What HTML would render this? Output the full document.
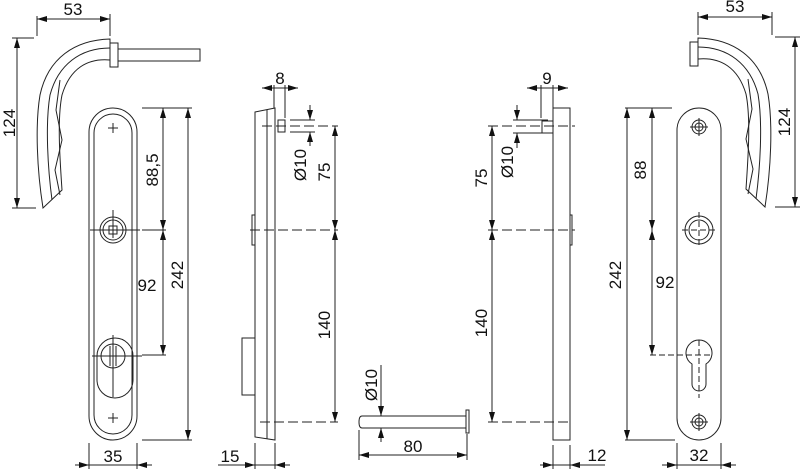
<!DOCTYPE html>
<html><head><meta charset="utf-8"><style>
html,body{margin:0;padding:0;background:#fff;}
svg{display:block;}
text{font-family:"Liberation Sans",sans-serif;font-size:17px;fill:#111;}
</style></head><body>
<svg width="800" height="469" viewBox="0 0 800 469" xmlns="http://www.w3.org/2000/svg">
<defs>
<marker id="a" viewBox="0 0 10 6" refX="10" refY="3" markerWidth="10" markerHeight="6" markerUnits="userSpaceOnUse" orient="auto-start-reverse"><path d="M0,0 L10,3 L0,6 Z" fill="#111"/></marker>
</defs>
<g stroke="#222" stroke-width="1" fill="none">
<!-- LEFT HANDLE -->
<path d="M110,39 C75,40 48,58 40,95 C35,125 37,170 43,208 L62,190 C60,160 57,120 62,95 C70,68 88,58 110,60 Z" fill="#fff"/>
<path d="M110,48 C80,48 58,65 50,95 C45,125 48,170 52,200"/>
<path d="M60,80 L56,110 L62,140 L55,170 L60,195"/>
<rect x="110" y="43" width="8" height="24"/>
<rect x="118" y="49" width="82" height="12"/>
<line x1="37" y1="19" x2="110" y2="19" marker-start="url(#a)" marker-end="url(#a)"/>
<line x1="37" y1="16" x2="37" y2="36"/><line x1="110" y1="14" x2="110" y2="36"/>
<line x1="17" y1="38" x2="17" y2="208" marker-start="url(#a)" marker-end="url(#a)"/>
<line x1="12" y1="38" x2="34" y2="38"/><line x1="12" y1="208" x2="36" y2="208"/>

<!-- LEFT PLATE -->
<rect x="89" y="108" width="48" height="332" rx="24" fill="#fff"/>
<rect x="94" y="114" width="38" height="320" rx="19"/>
<path d="M108,128h10M113,123v10M108,418h10M113,413v10"/>
<circle cx="113" cy="230" r="13"/><circle cx="113" cy="230" r="10"/>
<rect x="109" y="226" width="8" height="8"/>
<path d="M90,230h50M113,210v28"/>
<rect x="97" y="338" width="36" height="60" rx="18"/>
<circle cx="113" cy="356" r="12"/>
<path d="M92,356h50M113,335v62M110,346v20M116,346v20"/>
<line x1="142" y1="108" x2="192" y2="108"/>
<line x1="142" y1="230" x2="166" y2="230"/>
<line x1="142" y1="355" x2="166" y2="355"/>
<line x1="142" y1="440" x2="192" y2="440"/>
<line x1="163" y1="108" x2="163" y2="230" marker-start="url(#a)" marker-end="url(#a)"/>
<line x1="163" y1="230" x2="163" y2="355" marker-start="url(#a)" marker-end="url(#a)"/>
<line x1="188" y1="108" x2="188" y2="440" marker-start="url(#a)" marker-end="url(#a)"/>
<line x1="89" y1="443" x2="89" y2="469"/><line x1="137" y1="443" x2="137" y2="469"/>
<line x1="75" y1="465" x2="89" y2="465" marker-end="url(#a)"/>
<line x1="89" y1="465" x2="137" y2="465"/>
<line x1="152" y1="465" x2="137" y2="465" marker-end="url(#a)"/>

<!-- LEFT SIDE VIEW -->
<path d="M255,112 L275,108 L275,440 L255,437 Z" fill="#fff"/>
<line x1="267" y1="110" x2="267" y2="439"/>
<rect x="252" y="215" width="3" height="30"/>
<rect x="242" y="338" width="13" height="57"/>
<rect x="278" y="120" width="7" height="12"/>
<line x1="262" y1="126" x2="338" y2="126" stroke-dasharray="10,4"/>
<line x1="250" y1="230" x2="338" y2="230" stroke-dasharray="10,4"/>
<line x1="260" y1="422" x2="338" y2="422" stroke-dasharray="10,4"/>
<line x1="274" y1="85" x2="274" y2="108"/><line x1="285" y1="85" x2="285" y2="118"/>
<line x1="262" y1="88" x2="274" y2="88" marker-start="url(#a)"/>
<line x1="274" y1="88" x2="285" y2="88"/>
<line x1="285" y1="88" x2="298" y2="88" marker-end="url(#a)"/>
<line x1="290" y1="120" x2="315" y2="120"/><line x1="290" y1="132" x2="315" y2="132"/>
<line x1="310" y1="105" x2="310" y2="120" marker-end="url(#a)"/>
<line x1="310" y1="146" x2="310" y2="132" marker-end="url(#a)"/>
<line x1="335" y1="126" x2="335" y2="230" marker-start="url(#a)" marker-end="url(#a)"/>
<line x1="335" y1="230" x2="335" y2="422" marker-start="url(#a)" marker-end="url(#a)"/>
<line x1="255" y1="443" x2="255" y2="469"/><line x1="275" y1="443" x2="275" y2="469"/>
<line x1="218" y1="465" x2="255" y2="465" marker-end="url(#a)"/>
<line x1="255" y1="465" x2="275" y2="465"/>
<line x1="290" y1="465" x2="275" y2="465" marker-end="url(#a)"/>

<!-- PIN -->
<path d="M362,416 L466,416 L466,428 L362,428 Q359,428 359,422 Q359,416 362,416 Z"/>
<rect x="466" y="410" width="3" height="23"/>
<line x1="381" y1="365" x2="381" y2="416" marker-end="url(#a)"/>
<line x1="381" y1="442" x2="381" y2="428" marker-end="url(#a)"/>
<line x1="359" y1="430" x2="359" y2="460"/><line x1="467" y1="434" x2="467" y2="460"/>
<line x1="359" y1="455" x2="467" y2="455" marker-start="url(#a)" marker-end="url(#a)"/>

<!-- RIGHT SIDE VIEW -->
<rect x="553" y="108" width="17" height="332" fill="#fff"/>
<rect x="570" y="215" width="2" height="30"/>
<rect x="542" y="121" width="11" height="12"/>
<line x1="488" y1="126" x2="575" y2="126" stroke-dasharray="10,4"/>
<line x1="488" y1="230" x2="575" y2="230" stroke-dasharray="10,4"/>
<line x1="488" y1="422" x2="572" y2="422" stroke-dasharray="10,4"/>
<line x1="541" y1="85" x2="541" y2="118"/><line x1="553" y1="85" x2="553" y2="108"/>
<line x1="527" y1="88" x2="541" y2="88" marker-start="url(#a)"/>
<line x1="541" y1="88" x2="553" y2="88"/>
<line x1="553" y1="88" x2="568" y2="88" marker-end="url(#a)"/>
<line x1="513" y1="120" x2="548" y2="120"/><line x1="513" y1="133" x2="548" y2="133"/>
<line x1="517" y1="105" x2="517" y2="120" marker-end="url(#a)"/>
<line x1="517" y1="148" x2="517" y2="133" marker-end="url(#a)"/>
<line x1="492" y1="126" x2="492" y2="230" marker-start="url(#a)" marker-end="url(#a)"/>
<line x1="492" y1="230" x2="492" y2="422" marker-start="url(#a)" marker-end="url(#a)"/>
<line x1="553" y1="445" x2="553" y2="469"/><line x1="570" y1="445" x2="570" y2="469"/>
<line x1="540" y1="465" x2="553" y2="465" marker-end="url(#a)"/>
<line x1="553" y1="465" x2="570" y2="465"/>
<line x1="585" y1="465" x2="570" y2="465" marker-end="url(#a)"/>
<line x1="570" y1="465" x2="605" y2="465"/>

<!-- RIGHT PLATE -->
<rect x="677" y="108" width="44" height="332" rx="22" fill="#fff"/>
<circle cx="699" cy="127" r="7"/><circle cx="699" cy="127" r="4"/><path d="M690,127h18M699,118v18"/>
<circle cx="699" cy="422" r="7"/><circle cx="699" cy="422" r="4"/><path d="M690,422h18M699,413v18"/>
<circle cx="699" cy="230" r="14"/><circle cx="699" cy="230" r="10"/><path d="M682,230h35M699,212v36" stroke-dasharray="6,3"/>
<path d="M692,364 A13,13 0 1 1 706,364 L706,384 A7,7 0 0 1 692,384 Z"/>
<path d="M650,355h62M699,340v58" stroke-dasharray="6,3"/>
<line x1="625" y1="108" x2="672" y2="108"/>
<line x1="625" y1="440" x2="675" y2="440"/>
<line x1="652" y1="108" x2="652" y2="230" marker-start="url(#a)" marker-end="url(#a)"/>
<line x1="652" y1="230" x2="652" y2="355" marker-start="url(#a)" marker-end="url(#a)"/>
<line x1="627" y1="108" x2="627" y2="440" marker-start="url(#a)" marker-end="url(#a)"/>
<line x1="677" y1="443" x2="677" y2="469"/><line x1="721" y1="443" x2="721" y2="469"/>
<line x1="662" y1="465" x2="677" y2="465" marker-end="url(#a)"/>
<line x1="677" y1="465" x2="721" y2="465"/>
<line x1="736" y1="465" x2="721" y2="465" marker-end="url(#a)"/>

<!-- RIGHT HANDLE (mirror) -->
<g transform="translate(808,-1) scale(-1,1)">
<path d="M110,39 C75,40 48,58 40,95 C35,125 37,170 43,208 L62,190 C60,160 57,120 62,95 C70,68 88,58 110,60 Z" fill="#fff"/>
<path d="M110,48 C80,48 58,65 50,95 C45,125 48,170 52,200"/>
<path d="M60,80 L56,110 L62,140 L55,170 L60,195"/>
<rect x="110" y="43" width="8" height="24"/>
</g>
<line x1="698" y1="17" x2="772" y2="17" marker-start="url(#a)" marker-end="url(#a)"/>
<line x1="698" y1="12" x2="698" y2="35"/><line x1="772" y1="12" x2="772" y2="35"/>
<line x1="795" y1="37" x2="795" y2="207" marker-start="url(#a)" marker-end="url(#a)"/>
<line x1="775" y1="37" x2="800" y2="37"/><line x1="775" y1="207" x2="800" y2="207"/>
</g>

<text x="73" y="15" text-anchor="middle">53</text>
<text transform="translate(15,123) rotate(-90)" text-anchor="middle">124</text>
<text transform="translate(158,170) rotate(-90)" text-anchor="middle">88,5</text>
<text x="147" y="291" text-anchor="middle">92</text>
<text transform="translate(183,275) rotate(-90)" text-anchor="middle">242</text>
<text x="113" y="462" text-anchor="middle">35</text>
<text x="280" y="84" text-anchor="middle">8</text>
<text transform="translate(306,165) rotate(-90)" text-anchor="middle">Ø10</text>
<text transform="translate(330,172) rotate(-90)" text-anchor="middle">75</text>
<text transform="translate(330,325) rotate(-90)" text-anchor="middle">140</text>
<text x="230" y="462" text-anchor="middle">15</text>
<text transform="translate(377,385) rotate(-90)" text-anchor="middle">Ø10</text>
<text x="413" y="452" text-anchor="middle">80</text>
<text x="547" y="84" text-anchor="middle">9</text>
<text transform="translate(513,162) rotate(-90)" text-anchor="middle">Ø10</text>
<text transform="translate(487,178) rotate(-90)" text-anchor="middle">75</text>
<text transform="translate(487,323) rotate(-90)" text-anchor="middle">140</text>
<text x="597" y="461" text-anchor="middle">12</text>
<text transform="translate(646,170) rotate(-90)" text-anchor="middle">88</text>
<text x="665" y="288" text-anchor="middle">92</text>
<text transform="translate(621,275) rotate(-90)" text-anchor="middle">242</text>
<text x="699" y="461" text-anchor="middle">32</text>
<text x="735" y="12" text-anchor="middle">53</text>
<text transform="translate(790,122) rotate(-90)" text-anchor="middle">124</text>
</svg>
</body></html>
